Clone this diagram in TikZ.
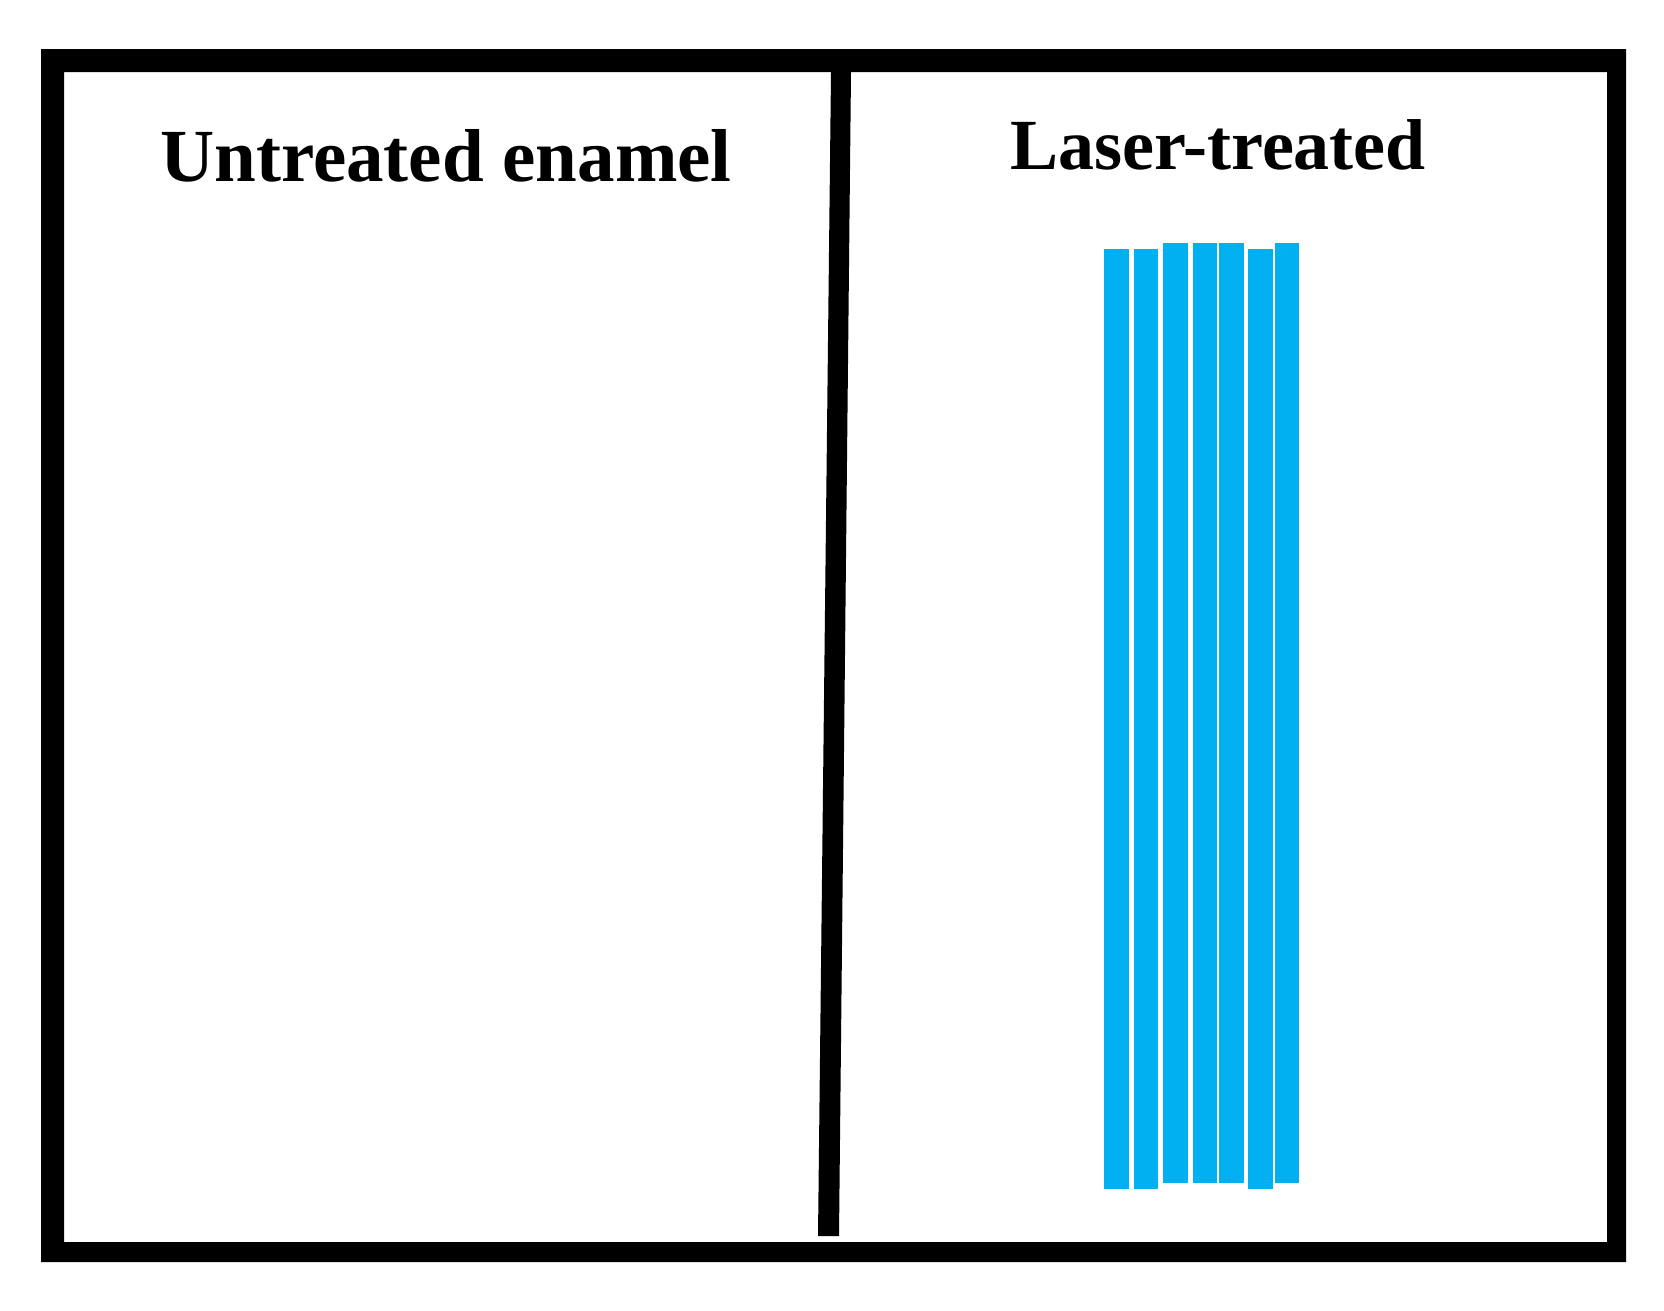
\documentclass[tikz,border=0pt]{standalone}
\usepackage{fontspec}
\setmainfont{Liberation Serif}
\definecolor{barblue}{HTML}{00B0F0}
\begin{document}
\begin{tikzpicture}[x=1pt,y=-1pt,
  bar/.style={fill=barblue,draw=none},
  title/.style={font=\bfseries\fontsize{75}{80}\selectfont,anchor=base,inner sep=0pt}]
\useasboundingbox (0,0) rectangle (1664,1310);
% frame
\fill[black,even odd rule] (41,49) rectangle (1626,1262) (64,72) rectangle (1607,1242);
% divider
\fill[black] (831,72) -- (851,72) -- (839,1236) -- (818,1236) -- cycle;
% titles
\node[title] (untreated) at (446,181) {Untreated enamel};
\node[title,font=\bfseries\fontsize{72}{78}\selectfont] (laser) at (1218,169) {Laser-treated};
% bars
\fill[bar] (1104,249) rectangle (1129,1189);
\fill[bar] (1134,249) rectangle (1158,1189);
\fill[bar] (1163,243) rectangle (1188,1183);
\fill[bar] (1193,243) rectangle (1217,1183);
\fill[bar] (1219,243) rectangle (1244,1183);
\fill[bar] (1248,249) rectangle (1273,1189);
\fill[bar] (1275,243) rectangle (1299,1183);
\end{tikzpicture}
\end{document}
